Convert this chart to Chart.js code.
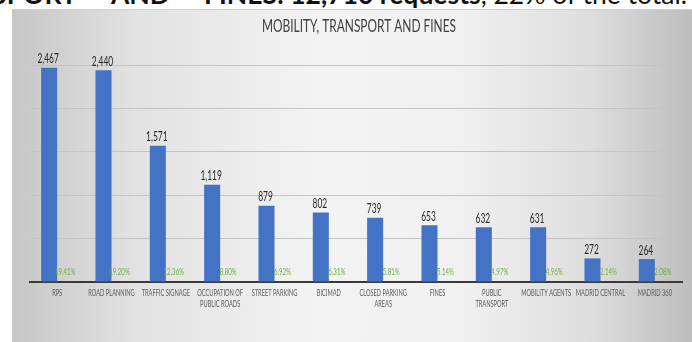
<!DOCTYPE html>
<html>
<head>
<meta charset="utf-8">
<script src="https://cdn.jsdelivr.net/npm/chart.js@4"></script>
<style>
  html, body { margin: 0; padding: 0; width: 692px; height: 342px; overflow: hidden; background: #fff; }
  #heading {
    position: absolute; right: 5px; top: -22px; white-space: nowrap;
    font-family: Lato, "Open Sans", sans-serif; font-size: 26.5px; color: #111;
  }
  #heading b { font-weight: 700; }
  #heading .gap { display: inline-block; width: 34px; }
  #panel {
    position: absolute; left: 12px; top: 9px; right: 0; bottom: 0;
    border-top: 1px solid #cfcfcf;
    background: linear-gradient(to right, #c6c6c6 0%, #e2e2e2 18%, #f3f3f3 45%, #f1f1f1 65%, #dedede 85%, #bdbdbd 100%);
  }
  #chart { position: absolute; left: 0; top: 0; }
</style>
</head>
<body>
<div id="heading"><b>TRANSPORT</b><span class="gap"></span><b>AND</b><span class="gap"></span><b>FINES: 12,710 requests</b>, 22% of the total.</div>
<div id="panel"></div>
<canvas id="chart" width="692" height="342"></canvas>
<script>
const chartTitle = 'MOBILITY, TRANSPORT AND FINES';
const categories = [
    'RPS', 'ROAD PLANNING', 'TRAFFIC SIGNAGE', ['OCCUPATION OF', 'PUBLIC ROADS'],
    'STREET PARKING', 'BICIMAD', ['CLOSED PARKING', 'AREAS'], 'FINES',
    ['PUBLIC', 'TRANSPORT'], 'MOBILITY AGENTS', 'MADRID CENTRAL', 'MADRID 360'
];
const requests = [2467, 2440, 1571, 1119, 879, 802, 739, 653, 632, 631, 272, 264];
const shares = [19.41, 19.20, 12.36, 8.80, 6.92, 6.31, 5.81, 5.14, 4.97, 4.96, 2.14, 2.08];
const yTicks = [0, 500, 1000, 1500, 2000, 2500];

const fontFamily = 'Lato, "Open Sans", sans-serif';

// the source text is a narrow face, so squash it sideways
function narrowText(ctx, text, x, y, sx) {
    ctx.save();
    ctx.translate(x, y);
    ctx.scale(sx, 1);
    ctx.fillText(text, 0, 0);
    ctx.restore();
}

// title, category names, value labels and share labels
const labelPlugin = {
    id: 'labels',
    afterDraw(chart) {
        const ctx = chart.ctx;
        const area = chart.chartArea;
        const xScale = chart.scales.x;
        ctx.save();
        ctx.textAlign = 'center';

        ctx.font = '17px ' + fontFamily;
        ctx.fillStyle = '#404040';
        ctx.textBaseline = 'middle';
        narrowText(ctx, chartTitle, (area.left + area.right) / 2 + 3, area.top - 38, 0.7);

        ctx.font = '9px ' + fontFamily;
        ctx.fillStyle = '#595959';
        ctx.textBaseline = 'middle';
        categories.forEach((cat, i) => {
            const lines = Array.isArray(cat) ? cat : [cat];
            const x = xScale.getPixelForTick(i);
            lines.forEach((line, j) => {
                narrowText(ctx, line, x, area.bottom + 11 + j * 11, 0.63);
            });
        });

        ctx.font = '14px ' + fontFamily;
        ctx.fillStyle = '#262626';
        ctx.textBaseline = 'bottom';
        chart.getDatasetMeta(0).data.forEach((bar, i) => {
            narrowText(ctx, requests[i].toLocaleString('en-US'), bar.x - 1, bar.y - 2, 0.6);
        });

        ctx.font = '9px ' + fontFamily;
        ctx.fillStyle = '#6fae45';
        ctx.textBaseline = 'middle';
        chart.getDatasetMeta(1).data.forEach((bar, i) => {
            narrowText(ctx, shares[i].toFixed(2) + '%', bar.x, area.bottom - 10, 0.68);
        });
        ctx.restore();
    }
};

new Chart(document.getElementById('chart'), {
    type: 'bar',
    data: {
        labels: categories,
        datasets: [
            {
                data: requests,
                backgroundColor: '#4472C4',
                barPercentage: 1,
                categoryPercentage: 0.59
            },
            {
                data: shares,
                backgroundColor: 'rgba(0,0,0,0)',
                barPercentage: 1,
                categoryPercentage: 0.59
            }
        ]
    },
    options: {
        responsive: false,
        animation: false,
        devicePixelRatio: 1,
        layout: { padding: { left: 30, right: 10, top: 65, bottom: 0 } },
        plugins: {
            legend: { display: false },
            tooltip: { enabled: false },
            title: { display: false }
        },
        scales: {
            x: {
                grid: { display: false },
                border: { color: '#3a3a3a', width: 2 },
                ticks: { display: false },
                afterFit(scale) { scale.height = 60; }
            },
            y: {
                min: yTicks[0],
                max: yTicks[yTicks.length - 1],
                afterBuildTicks(scale) { scale.ticks = yTicks.map(v => ({ value: v })); },
                ticks: { display: false },
                grid: { color: '#c4c4c4', lineWidth: 1, drawTicks: false },
                border: { display: false },
                afterFit(scale) { scale.width = 0; }
            }
        }
    },
    plugins: [labelPlugin]
});
</script>
</body>
</html>
